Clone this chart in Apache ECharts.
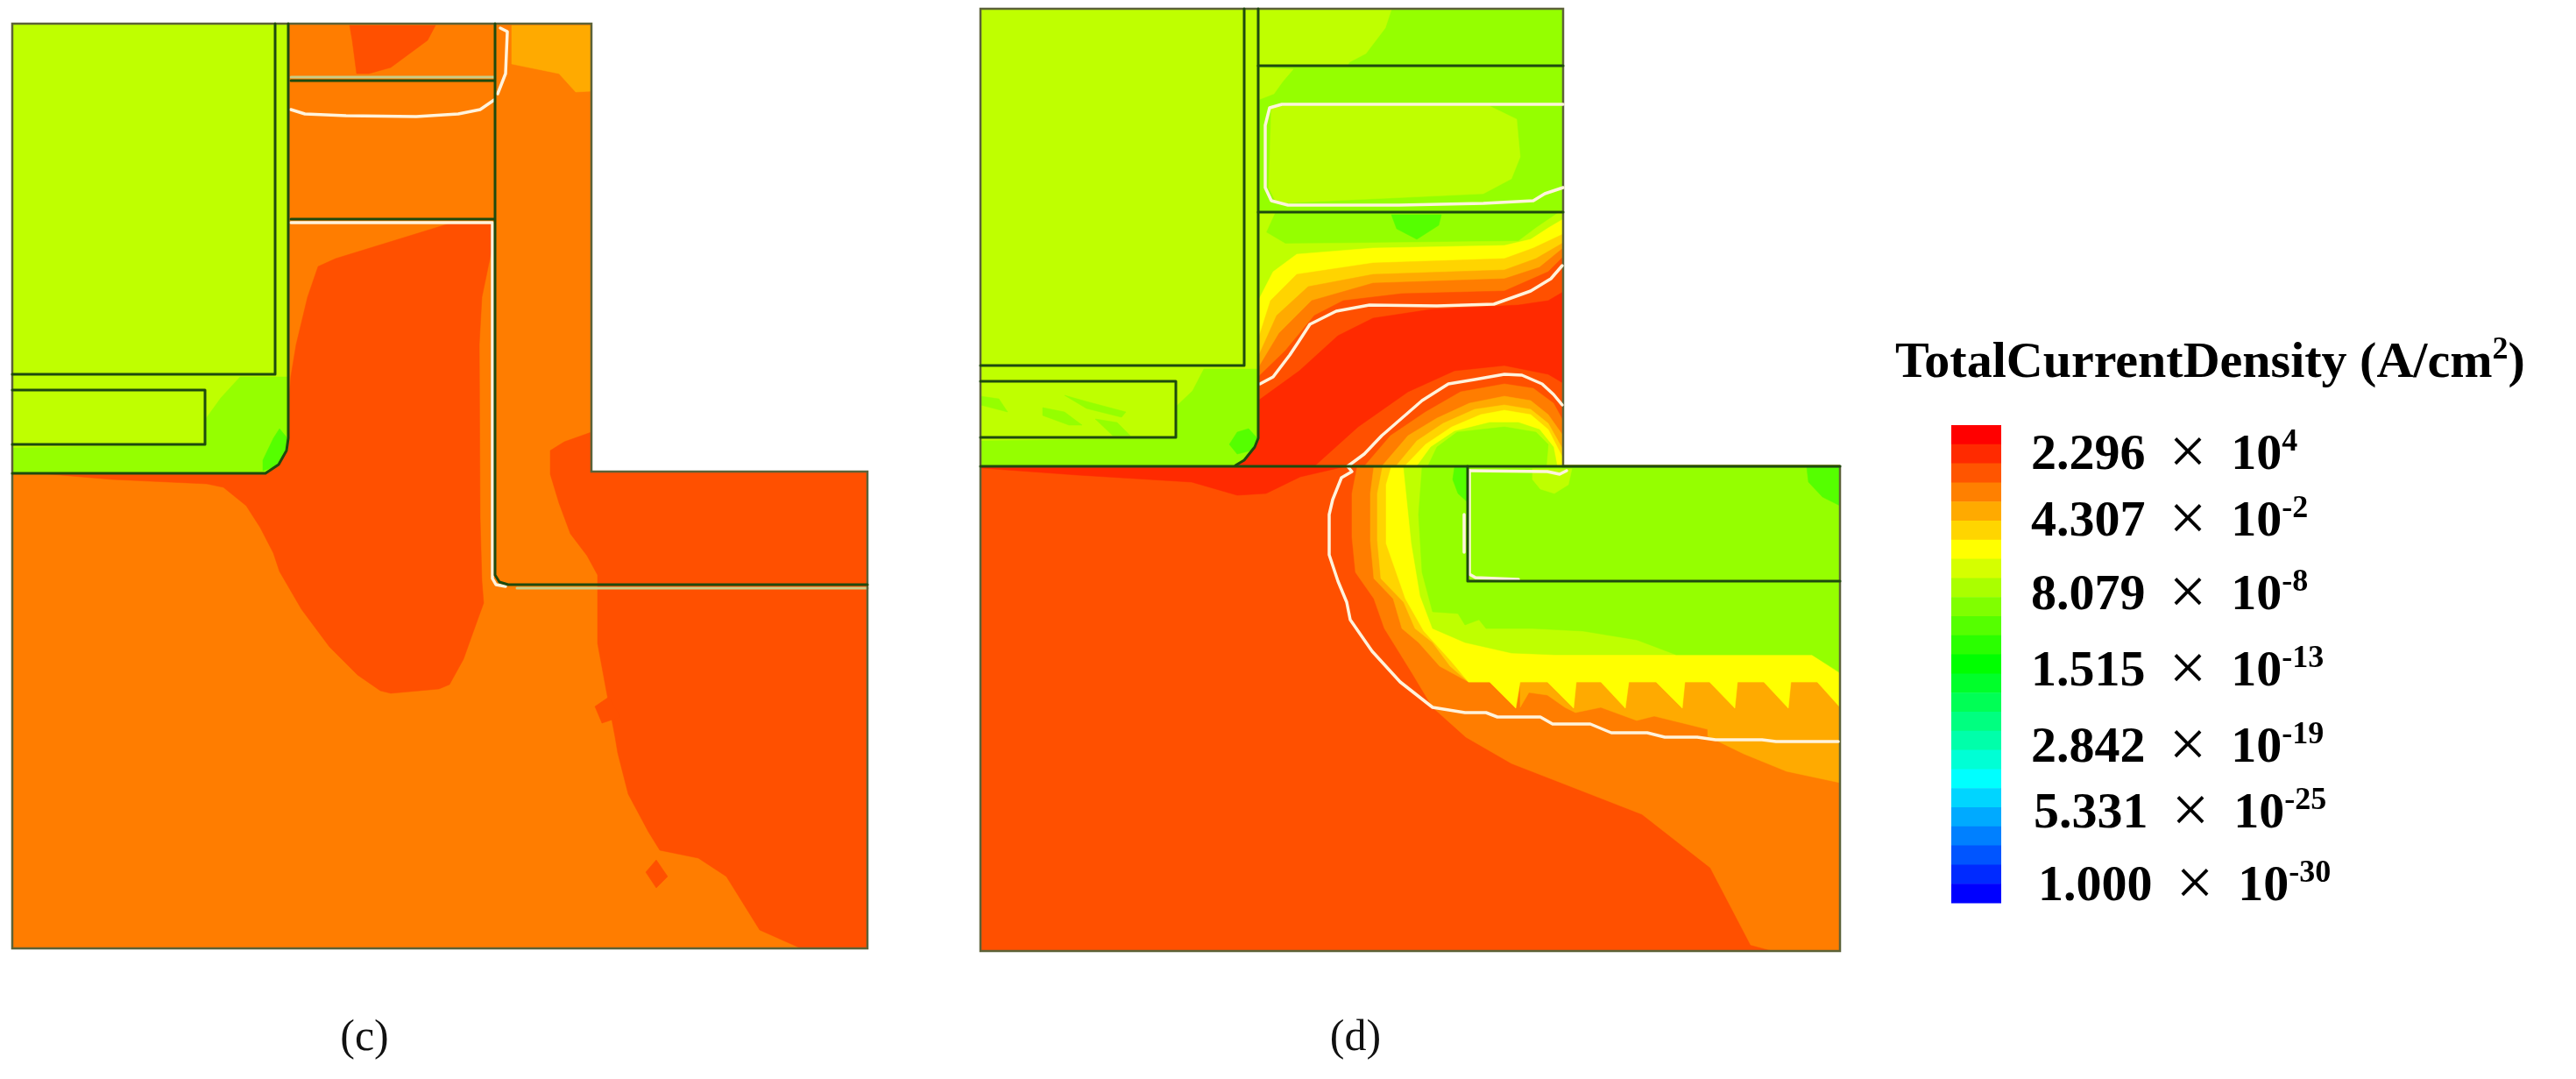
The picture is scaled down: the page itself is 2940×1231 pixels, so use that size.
<!DOCTYPE html>
<html>
<head>
<meta charset="utf-8">
<title>TotalCurrentDensity</title>
<script src="https://cdn.jsdelivr.net/npm/echarts@6/dist/echarts.min.js"></script>
<style>
html,body{margin:0;padding:0;background:#fff;}
#chart{width:2940px;height:1231px;}
</style>
</head>
<body>
<div id="chart"></div>
<script>
// contour levels used by the two device cross sections
const levelColors = {
    red:'#FF2A00', dark:'#FF5000', orange:'#FF7D00', amber:'#FFAA00', gold:'#FFD400',
    yellow:'#FFFF00', lime:'#BFFF00', green:'#95FF00', bright:'#55FF00'
};

// colour scale, top to bottom
const legendColors = ['#FF0000','#FF2A00','#FF5500','#FF8000','#FFAA00','#FFD500','#FFFF00','#D5FF00','#AAFF00',
    '#80FF00','#55FF00','#2AFF00','#00FF00','#00FF2A','#00FF55','#00FF80','#00FFAA','#00FFD5','#00FFFF',
    '#00D5FF','#00AAFF','#0080FF','#0055FF','#002AFF','#0000FF'];
const legendMantissa = ['2.296','4.307','8.079','1.515','2.842','5.331','1.000'];
const legendExponent = ['4','-2','-8','-13','-19','-25','-30'];
const titleParts = ['TotalCurrentDensity (A/cm','2',')'];
const captions = ['(c)','(d)'];

// panel (c) contours, painted in this order
const cOutline = [[14,27],[675,27],[675,538],[990,538],[990,1082],[14,1082]];
const cTopPatch = [[399,29],[497,29],[488,46],[446,77],[421,84],[407,84],[402,46]];
const cAmberCorner = [[584,29],[675,29],[675,104],[657,105],[638,84],[584,73]];
const cCentre = [[513,255],[561,255],[561,286],[550,339],[547,393],[548,591],[550,663],[552,688],[539,724],[529,752],[513,781],[501,786],[446,791],[434,788],[408,770],[376,738],[344,695],[319,652],[312,631],[297,602],[281,577],[255,556],[236,552],[128,547],[57,541],[45,540],[303,540],[329,514],[329,464],[332,429],[338,393],[351,339],[363,304],[383,295]];
const cRight = [[675,493],[644,504],[628,514],[628,541],[638,574],[651,609],[670,634],[682,656],[682,699],[682,734],[692,788],[702,841],[705,859],[717,906],[740,949],[753,970],[797,979],[829,1000],[867,1061],[912,1081],[990,1081],[990,538],[675,538]];
const cDiamondA = [[695,795],[708,818],[687,825],[679,806]];
const cDiamondB = [[749,981],[762,1000],[749,1013],[737,995]];
const cBlock = [[14,27],[329,27],[329,500],[327,514],[318,530],[303,540],[14,540]];
const cBlockGreen = [[274,430],[329,430],[329,500],[327,514],[318,530],[303,540],[14,540],[14,511],[234,507],[234,479],[252,454]];
const cBlockSpot = [[312,500],[319,489],[328,500],[327,514],[316,532],[300,537],[300,525]];
const cRegions = [
    ['orange',cOutline],['dark',cTopPatch],['amber',cAmberCorner],['dark',cCentre],['dark',cRight],
    ['dark',cDiamondA],['dark',cDiamondB],['lime',cBlock],['green',cBlockGreen],['bright',cBlockSpot]
];

// panel (d) contours, painted in this order
const dOutline = [[1119,10],[1784,10],[1784,532],[2100,532],[2100,1085],[1119,1085]];
const dColumn = [[1436,10],[1784,10],[1784,531],[1436,531]];
const dTopLime = [[1436,11],[1588,11],[1581,32],[1559,61],[1540,71],[1538,75],[1436,75]];
const dUpperLime = [[1436,77],[1476,79],[1464,93],[1454,107],[1436,114]];
const dBoxLime = [[1451,121],[1700,121],[1731,136],[1735,179],[1725,204],[1693,221],[1457,232],[1448,214]];
const dTopSpot = [[1588,245],[1645,245],[1642,257],[1617,273],[1594,261]];
const dColLime = [[1436,243],[1455,243],[1445,265],[1467,278],[1567,277],[1733,275],[1753,260],[1778,243],[1784,243],[1784,531],[1436,531]];
const dColYellow = [[1436,343],[1453,310],[1480,290],[1567,283],[1717,280],[1747,273],[1767,260],[1784,250],[1784,531],[1436,531]];
const dColGold = [[1436,387],[1450,343],[1480,313],[1567,300],[1717,295],[1750,283],[1784,267],[1784,531],[1436,531]];
const dColAmber = [[1436,407],[1457,360],[1493,327],[1567,313],[1717,308],[1753,295],[1784,277],[1784,531],[1436,531]];
const dColOrange = [[1436,420],[1460,380],[1497,343],[1567,323],[1717,318],[1757,305],[1784,283],[1784,531],[1436,531]];
const dColDark = [[1436,430],[1467,400],[1500,360],[1533,343],[1600,335],[1717,332],[1767,310],[1784,293],[1784,531],[1436,531]];
const dColRed = [[1436,457],[1483,423],[1527,383],[1567,363],[1633,353],[1733,348],[1767,343],[1784,333],[1784,437],[1767,427],[1717,417],[1660,423],[1607,447],[1550,487],[1500,532],[1410,532]];
const dRedStrip = [[1120,532],[1536,532],[1484,544],[1445,563],[1412,565],[1360,550],[1230,542],[1120,534]];
const dOrange = [[1557,532],[1587,497],[1627,470],[1667,447],[1717,438],[1750,443],[1773,460],[1784,480],[1784,531],[2100,531],[2100,1085],[2024,1085],[1998,1078],[1952,990],[1874,929],[1725,871],[1673,841],[1635,807],[1611,767],[1580,717],[1568,683],[1547,653],[1543,613],[1543,563],[1549,532]];
const dAmber = [[1577,532],[1607,497],[1640,477],[1677,460],[1717,452],[1747,457],[1767,473],[1784,497],[1784,531],[2100,531],[2100,893],[2039,880],[1990,860],[1949,840],[1949,832],[1888,817],[1868,822],[1827,807],[1798,813],[1786,807],[1766,793],[1745,790],[1735,807],[1735,778],[1676,778],[1643,760],[1619,733],[1600,717],[1590,683],[1568,660],[1564,617],[1564,563],[1568,532]];
const dGold = [[1593,532],[1617,503],[1647,483],[1683,467],[1717,462],[1747,467],[1767,483],[1784,513],[1784,531],[2100,531],[2100,803],[2074,778],[1676,778],[1655,760],[1635,733],[1615,717],[1602,687],[1576,660],[1572,617],[1572,563],[1578,532]];
const dYellow = [[1603,532],[1627,507],[1657,487],[1690,473],[1717,468],[1747,473],[1767,490],[1784,523],[1784,531],[2100,531],[2100,807],[2074,778],[2044,778],[2041,808],[2013,778],[1983,778],[1980,808],[1951,778],[1923,778],[1920,808],[1890,778],[1859,778],[1855,808],[1827,778],[1799,778],[1796,808],[1766,778],[1735,778],[1730,808],[1700,778],[1676,778],[1655,753],[1625,720],[1604,683],[1582,620],[1582,553],[1588,532]];
const dArchLime = [[1617,532],[1633,510],[1660,492],[1700,482],[1733,482],[1757,490],[1773,510],[1777,531]];
const dLowerLime = [[1602,533],[1611,620],[1621,680],[1635,717],[1672,733],[1725,745],[1774,747],[2068,747],[2100,768],[2100,533]];
const dArchGreen = [[1630,531],[1640,510],[1663,493],[1717,487],[1753,493],[1767,507],[1765,531]];
const dLowerGreen = [[1623,533],[1619,587],[1623,653],[1635,698],[1664,700],[1672,713],[1688,707],[1696,717],[1749,717],[1807,720],[1868,730],[1913,747],[2068,747],[2100,767],[2100,533]];
const dSpotLeft = [[1660,533],[1675,533],[1675,573],[1664,563],[1658,547]];
const dSpotRight = [[2062,533],[2100,533],[2100,577],[2080,567],[2064,550]];
const dSpotLime = [[1749,535],[1794,535],[1790,553],[1774,563],[1758,558],[1749,547]];
const dBlock = [[1119,10],[1436,10],[1436,500],[1432,510],[1420,525],[1410,531],[1119,531]];
const dBlockGreen = [[1374,421],[1436,421],[1436,500],[1432,510],[1420,525],[1410,531],[1119,531],[1119,503],[1342,500],[1342,464],[1361,446]];
const dBlockSpot = [[1403,507],[1412,493],[1425,489],[1435,500],[1428,514],[1412,518]];
const dStreakA = [[1215,451],[1240,458],[1285,470],[1280,476],[1240,466]];
const dStreakB = [[1190,465],[1215,470],[1235,485],[1220,485],[1190,474]];
const dStreakC = [[1250,478],[1275,482],[1290,497],[1270,497]];
const dStreakD = [[1119,452],[1140,455],[1150,470],[1119,462]];
const dRegions = [
    ['dark',dOutline],['green',dColumn],['lime',dTopLime],['lime',dUpperLime],['lime',dBoxLime],['bright',dTopSpot],
    ['lime',dColLime],['yellow',dColYellow],['gold',dColGold],['amber',dColAmber],['orange',dColOrange],['dark',dColDark],['red',dColRed],
    ['red',dRedStrip],['orange',dOrange],['amber',dAmber],['gold',dGold],['yellow',dYellow],
    ['lime',dArchLime],['lime',dLowerLime],['green',dArchGreen],['green',dLowerGreen],
    ['bright',dSpotLeft],['bright',dSpotRight],['lime',dSpotLime],
    ['lime',dBlock],['green',dBlockGreen],['bright',dBlockSpot],
    ['green',dStreakA],['green',dStreakB],['green',dStreakC],['green',dStreakD]
];

// material boundaries
const cWalls = [
    [[314,27],[314,427],[14,427]],
    [[14,445],[234,445],[234,507],[14,507]],
    [[329,27],[329,500],[327,514],[318,530],[303,540],[14,540]],
    [[565,27],[565,656],[570,664],[580,667],[990,667]],
    [[332,92],[564,92]],
    [[332,250],[564,250]]
];
const dWalls = [
    [[1420,10],[1420,417],[1119,417]],
    [[1119,435],[1342,435],[1342,499],[1119,499]],
    [[1436,10],[1436,500],[1432,510],[1420,525],[1410,531]],
    [[1119,532],[2100,532]],
    [[1436,75],[1784,75]],
    [[1436,242],[1784,242]],
    [[1675,532],[1675,663],[2100,663]]
];

// junction lines
const cJunctions = [
    [[332,125],[348,130],[395,132],[475,133],[523,130],[548,125],[564,114]],
    [[568,107],[577,84],[579,36],[571,32]],
    [[332,254],[562,254],[562,660],[566,667],[577,669]]
];
const cFaintLines = [
    [[332,88],[564,88]],
    [[590,671],[990,671]]
];
const dJunctions = [
    [[1784,119],[1463,119],[1449,123],[1444,143],[1444,214],[1451,229],[1470,234],[1597,234],[1693,232],[1750,229],[1763,221],[1784,214]],
    [[1438,438],[1453,430],[1472,405],[1482,390],[1495,370],[1525,355],[1563,348],[1640,349],[1705,347],[1747,332],[1770,318],[1783,303]],
    [[1783,462],[1773,450],[1760,438],[1737,428],[1717,427],[1683,433],[1653,438],[1623,457],[1600,477],[1577,497],[1557,518],[1538,532],[1543,538],[1531,545],[1521,570],[1517,587],[1517,633],[1527,663],[1537,687],[1541,707],[1566,743],[1598,778],[1635,807],[1672,813],[1696,813],[1709,818],[1758,818],[1772,826],[1815,826],[1839,836],[1880,836],[1900,841],[1937,841],[1958,844],[2011,844],[2027,846],[2098,846]],
    [[1677,537],[1766,538],[1780,541],[1788,537]],
    [[1677,537],[1677,655],[1684,659],[1733,661]],
    [[1671,587],[1671,630]]
];

const regions = cRegions.concat(dRegions);
const outlines = [cOutline, dOutline];
const serifFont = '"Liberation Serif","Times New Roman",serif';

const legendTop = 485, legendBottom = 1030, legendLeft = 2227, legendRight = 2284;
const labelAnchors = [[2318,520],[2318,596],[2318,680],[2318,767],[2318,854],[2321,929],[2326,1012]];

const chart = echarts.init(document.getElementById('chart'), null, { renderer:'canvas' });

function polySeries(name, items, toShape){
    return {
        type:'custom', name, coordinateSystem:'cartesian2d', silent:true, clip:false,
        data:items.map((d,i)=>[i]),
        encode:{ x:-1, y:-1 },
        renderItem:(params, api)=>toShape(items[params.dataIndex], api)
    };
}
const project = (pts, api)=>pts.map(p=>api.coord(p));
const lineShape = (color, width)=>(pts, api)=>({
    type:'polyline',
    shape:{ points:project(pts, api) },
    style:{ stroke:color, lineWidth:width, fill:null, lineJoin:'round', lineCap:'round' }
});

const richStyles = {
    n:{ fontFamily:serifFont, fontWeight:'bold', fontSize:58, color:'#111' },
    x:{ fontFamily:serifFont, fontWeight:'normal', fontSize:76, color:'#111', padding:[0,28,0,27] },
    t:{ fontFamily:serifFont, fontWeight:'bold', fontSize:58, color:'#111' },
    s:{ fontFamily:serifFont, fontWeight:'bold', fontSize:36, color:'#111', padding:[0,0,30,0] },
    h:{ fontFamily:serifFont, fontWeight:'bold', fontSize:58, color:'#111' },
    hs:{ fontFamily:serifFont, fontWeight:'bold', fontSize:36, color:'#111', padding:[0,0,30,0] }
};

const option = {
    animation:false,
    backgroundColor:'#fff',
    grid:{ left:0, right:0, top:0, bottom:0 },
    xAxis:{ type:'value', min:0, max:2940, show:false },
    yAxis:{ type:'value', min:0, max:1231, inverse:true, show:false },
    series:[
        polySeries('contours', regions, (r, api)=>({
            type:'polygon',
            shape:{ points:project(r[1], api) },
            style:{ fill:levelColors[r[0]], stroke:levelColors[r[0]], lineWidth:0.5 }
        })),
        polySeries('faint', cFaintLines, lineShape('#C9CC86', 3)),
        polySeries('outline', outlines, (pts, api)=>({
            type:'polygon',
            shape:{ points:project(pts, api) },
            style:{ fill:null, stroke:'#5C6238', lineWidth:2.5 }
        })),
        polySeries('junctions', cJunctions.concat(dJunctions), lineShape('#FFF3DC', 3.5)),
        polySeries('walls', cWalls.concat(dWalls), lineShape('#1E4A0E', 3)),
        polySeries('scale', legendColors, (c, api)=>{
            const i = legendColors.indexOf(c);
            const h = (legendBottom-legendTop)/legendColors.length;
            const a = api.coord([legendLeft, legendTop+i*h]);
            const b = api.coord([legendRight, legendTop+(i+1)*h]);
            return { type:'rect', shape:{ x:a[0], y:a[1], width:b[0]-a[0], height:b[1]-a[1]+0.5 }, style:{ fill:c } };
        }),
        polySeries('scale labels', legendMantissa, (m, api)=>{
            const i = legendMantissa.indexOf(m);
            const p = api.coord(labelAnchors[i]);
            return { type:'text', x:p[0], y:p[1], style:{
                text:'{n|'+m+'}{x|×}{t|10}{s|'+legendExponent[i]+'}',
                rich:richStyles, align:'left', verticalAlign:'middle', fontFamily:serifFont
            } };
        }),
        polySeries('scale title', [titleParts], (t, api)=>{
            const p = api.coord([2163,415]);
            return { type:'text', x:p[0], y:p[1], style:{
                text:'{h|'+t[0]+'}{hs|'+t[1]+'}{h|'+t[2]+'}',
                rich:richStyles, align:'left', verticalAlign:'middle', fontFamily:serifFont
            } };
        }),
        polySeries('captions', captions, (c, api)=>{
            const p = api.coord(captions.indexOf(c)===0 ? [416,1185] : [1547,1185]);
            return { type:'text', x:p[0], y:p[1], style:{
                text:c, align:'center', verticalAlign:'middle', fontFamily:serifFont, fontSize:50, fill:'#111'
            } };
        })
    ]
};
chart.setOption(option);
window.addEventListener('resize', ()=>{ chart.resize(); });
</script>
</body>
</html>
